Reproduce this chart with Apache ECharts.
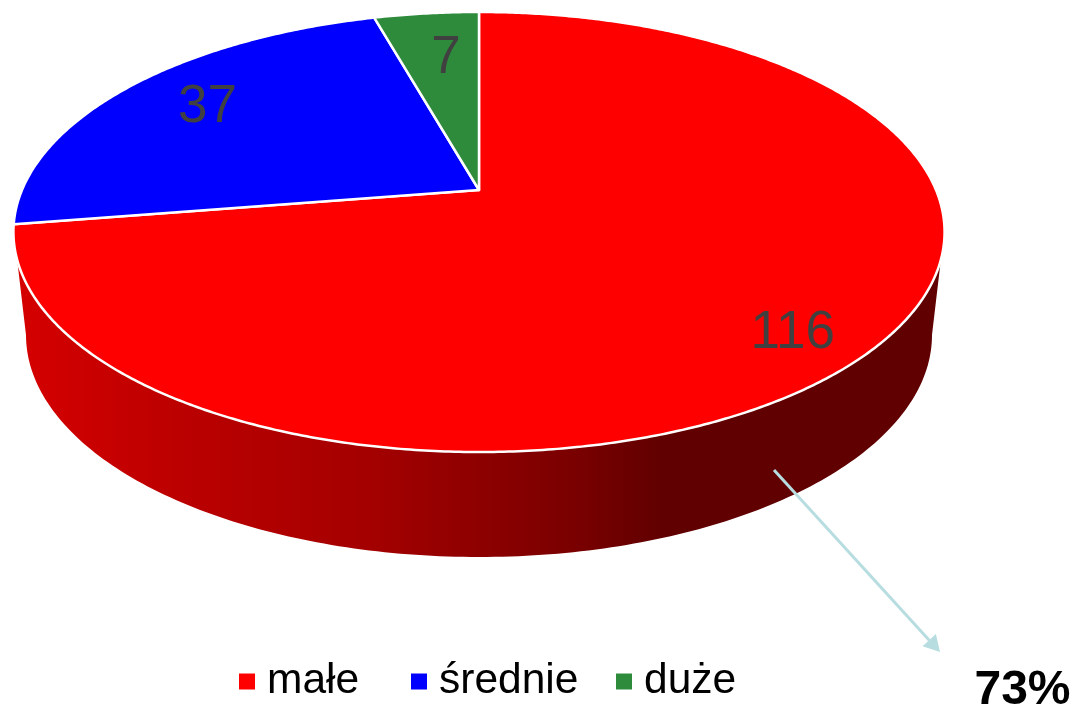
<!DOCTYPE html>
<html><head><meta charset="utf-8">
<style>html,body{margin:0;padding:0;background:#fff}#c{width:1073px;height:709px}</style>
<script src="https://cdn.jsdelivr.net/npm/echarts@6/dist/echarts.min.js"></script>
</head><body><div id="c"></div>
<script>
// Data
const categories = ['małe', 'średnie', 'duże'];
const values = [116, 37, 7];
const shareLabel = '73%';

// Styling / layout (not data)
const colors = ['#ff0000', '#0000ff', '#2e8b3b'];
const labelRadius = [0.846, 0.78, 0.73];
const labelAngleShift = [3.4, 1.7, 1.4];
const labelDrop = 3;
const legendLeft = [239, 411, 616];
const apex = {x: 479, y: 190};
const persp = {a: 0.1909, p: 212, d: 457};
const base = {cx: 479, cy: 335, rx: 453, ry: 222};
const sideCutY = 259;

const total = values.reduce((s, v) => s + v, 0);
const RAD = Math.PI / 180;

// circle (radius r, clockwise angle from top) -> screen, through a perspective tilt
function project(deg, r) {
  const u = r * Math.sin(deg * RAD), v = r * Math.cos(deg * RAD);
  const w = 1 + persp.a * v;
  return [apex.x + persp.d * u / w, apex.y - persp.p * v / w];
}
function sliceAngles(i) {
  const before = values.slice(0, i).reduce((s, v) => s + v, 0);
  return [before / total * 360, (before + values[i]) / total * 360];
}
function arc(a0, a1) {
  const pts = [];
  const n = Math.max(2, Math.ceil((a1 - a0) * 2));
  for (let k = 0; k <= n; k++) pts.push(project(a0 + (a1 - a0) * k / n, 1));
  return pts;
}
function sidePoints(a0, a1) {
  const near = arc(a0, a1).filter(p => p[1] >= sideCutY);
  const pts = near.slice();
  for (let t = 0; t <= 180; t += 1) {
    // lower half of the base rim, from left to right
    pts.push([base.cx - base.rx * Math.cos(t * RAD), base.cy + base.ry * Math.sin(t * RAD)]);
  }
  return pts;
}
const sideFill = {
  type: 'linear', global: true, x: 14, y: 0, x2: 945, y2: 0,
  colorStops: [
    {offset: 0, color: '#d60000'},
    {offset: 0.18, color: '#bb0000'},
    {offset: 0.39, color: '#a30000'},
    {offset: 0.61, color: '#780000'},
    {offset: 0.70, color: '#600000'},
    {offset: 1, color: '#600000'}
  ]
};

function renderSlice(i) {
  return function () {
    const [a0, a1] = sliceAngles(i);
    const children = [];
    if (i === 0) {
      children.push({type: 'polygon', shape: {points: sidePoints(a0, a1)},
        style: {fill: sideFill, stroke: null}, z2: 1});
    }
    children.push({type: 'polygon',
      shape: {points: [[apex.x, apex.y]].concat(arc(a0, a1))},
      style: {fill: colors[i], stroke: '#ffffff', lineWidth: 2.5, lineJoin: 'round'}, z2: 2});
    const mid = (a0 + a1) / 2 + labelAngleShift[i];
    const lp = project(mid, labelRadius[i]);
    children.push({type: 'text', z2: 5,
      style: {text: String(values[i]), x: lp[0], y: lp[1] + labelDrop, align: 'center', verticalAlign: 'middle',
        fill: '#404040', font: '53px "Liberation Sans", Arial, sans-serif'}});
    return {type: 'group', children};
  };
}

const arrowFrom = [774, 470], arrowTo = [940, 652];
const ang = Math.atan2(arrowTo[1] - arrowFrom[1], arrowTo[0] - arrowFrom[0]);
const headLen = 16, headHalf = 9;
const hb = [arrowTo[0] - headLen * Math.cos(ang), arrowTo[1] - headLen * Math.sin(ang)];
const arrowHead = [arrowTo,
  [hb[0] - headHalf * Math.sin(ang), hb[1] + headHalf * Math.cos(ang)],
  [hb[0] + headHalf * Math.sin(ang), hb[1] - headHalf * Math.cos(ang)]];

const chart = echarts.init(document.getElementById('c'), null, {renderer: 'canvas'});
chart.setOption({
  animation: false,
  backgroundColor: '#ffffff',
  color: colors,
  legend: categories.map((name, i) => ({
    data: [name], left: legendLeft[i], top: 660, icon: 'rect', itemWidth: 16, itemHeight: 16,
    selectedMode: false, padding: 0,
    textStyle: {fontFamily: '"Liberation Sans", Arial, sans-serif', fontSize: 42.5, color: '#000000', padding: [0, 0, 0, 7]}
  })),
  series: categories.map((name, i) => ({
    type: 'custom', name, coordinateSystem: 'none', silent: true,
    itemStyle: {color: colors[i]},
    data: [[values[i]]], renderItem: renderSlice(i)
  })),
  graphic: [
    {type: 'line', z: 20, shape: {x1: arrowFrom[0], y1: arrowFrom[1], x2: hb[0], y2: hb[1]},
      style: {stroke: '#b7dde0', lineWidth: 3}},
    {type: 'polygon', z: 20, shape: {points: arrowHead}, style: {fill: '#b7dde0'}},
    {type: 'text', z: 20, x: 1022.5, y: 691,
      style: {text: shareLabel, align: 'center', verticalAlign: 'middle', fill: '#000000',
        font: 'bold 48px "Liberation Sans", Arial, sans-serif'}}
  ]
});
</script></body></html>
